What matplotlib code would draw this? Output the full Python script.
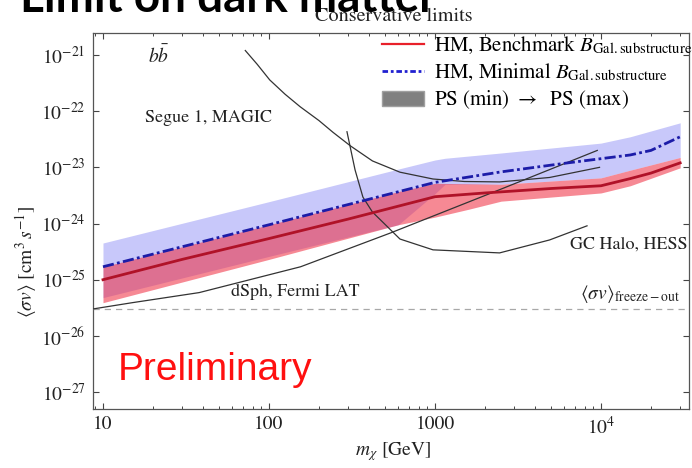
import matplotlib
matplotlib.use('Agg')
import matplotlib.pyplot as plt
import numpy as np
from matplotlib.lines import Line2D
from matplotlib.patches import Patch
from matplotlib.ticker import FixedLocator, FixedFormatter, LogLocator, NullLocator

plt.rcParams['font.family'] = ['STIXGeneral', 'DejaVu Serif']
plt.rcParams['mathtext.fontset'] = 'stix'

# --- data (m in GeV, <sigma v> in cm^3/s) ---
m_bench = [10, 30, 100, 300, 1000, 2000, 5000, 10000, 15000, 20000, 30000]
sv_bench = [1.0e-25, 2.3e-25, 5.4e-25, 1.2e-24, 3.0e-24, 3.5e-24, 4.2e-24,
            4.7e-24, 6.3e-24, 7.9e-24, 1.2e-23]

m_min = [10, 100, 1000, 2500, 6300, 15000, 20000, 30000]
sv_min = [1.7e-25, 9.5e-25, 5.4e-24, 8.3e-24, 1.2e-23, 1.66e-23, 2.0e-23, 3.5e-23]

m_blue_band = [10, 100, 600, 1000, 1150, 2500, 10000, 15000, 30000]
blue_hi = [4.5e-25, 2.45e-24, 9.3e-24, 1.35e-23, 1.45e-23, 1.8e-23, 2.7e-23, 3.5e-23, 6.2e-23]
blue_lo = [4.8e-26, 2.6e-25, 9.5e-25, 3.4e-24, 5.0e-24, 5.0e-24, 6.5e-24, 8.9e-24, 1.5e-23]

m_red_band = [10, 100, 600, 1000, 1600, 2500, 10000, 15000, 30000]
red_hi = [1.7e-25, 9.5e-25, 3.7e-24, 5.2e-24, 5.1e-24, 5.0e-24, 6.5e-24, 8.9e-24, 1.5e-23]
red_lo = [3.9e-26, 2.3e-25, 9.5e-25, 1.3e-24, 1.8e-24, 2.5e-24, 3.5e-24, 4.7e-24, 9.8e-24]

m_dsph = [8.6, 15, 38, 155, 540, 2450, 9500]
sv_dsph = [3.0e-26, 3.9e-26, 5.9e-26, 1.7e-25, 6.8e-25, 4.0e-24, 2.0e-23]

m_segue = [72, 85, 101, 125, 154, 200, 243, 310, 420, 615, 973, 1500, 2450, 4900, 9800]
sv_segue = [1.2e-21, 6.8e-22, 3.6e-22, 2.0e-22, 1.2e-22, 6.8e-23, 4.2e-23, 2.4e-23,
            1.3e-23, 8.2e-24, 6.2e-24, 5.6e-24, 5.5e-24, 6.6e-24, 1.0e-23]

m_gc = [295, 330, 368, 420, 486, 615, 973, 2450, 4900, 8240]
sv_gc = [4.3e-23, 9.0e-24, 2.95e-24, 1.6e-24, 1.05e-24, 5.3e-25, 3.4e-25, 3.0e-25,
         5.1e-25, 9.1e-25]

sv_freeze = 3.0e-26

x_ticks = [10, 100, 1000, 10000]
x_ticklabels = ['10', '100', '1000', r'$10^4$']
y_ticks = [1e-27, 1e-26, 1e-25, 1e-24, 1e-23, 1e-22, 1e-21]
y_ticklabels = [r'$10^{-27}$', r'$10^{-26}$', r'$10^{-25}$', r'$10^{-24}$',
                r'$10^{-23}$', r'$10^{-22}$', r'$10^{-21}$']

# --- figure ---
fig = plt.figure(figsize=(6.92, 4.68), dpi=100)
ax = fig.add_axes([92.7 / 692, 59 / 468, 596.3 / 692, 376 / 468])
ax.set_xscale('log')
ax.set_yscale('log')

ax.fill_between(m_blue_band, blue_lo, blue_hi, color='#c8c8fa', lw=0, zorder=1)
ax.fill_between(m_red_band, red_lo, red_hi, color='#f0283c', alpha=0.55, lw=0, zorder=2)

ax.axhline(sv_freeze, color='#a8a8a8', lw=0.9, ls=(0, (5, 4)), zorder=3)
for mm, ss in [(m_dsph, sv_dsph), (m_segue, sv_segue), (m_gc, sv_gc)]:
    ax.plot(mm, ss, color='#333333', lw=0.9, zorder=4)

ax.plot(m_bench, sv_bench, color='#b01228', lw=2.0, zorder=5)
ax.plot(m_min, sv_min, color='#1c1ca8', lw=2.0, ls=(0, (4, 1.2, 1, 1.2)), zorder=6)

ax.set_xlim(8.67, 3.39e4)
ax.set_ylim(5.0e-28, 2.46e-21)

ax.xaxis.set_major_locator(FixedLocator(x_ticks))
ax.xaxis.set_major_formatter(FixedFormatter(x_ticklabels))
ax.xaxis.set_minor_locator(LogLocator(base=10, subs=np.arange(2, 10), numticks=20))
ax.yaxis.set_major_locator(FixedLocator(y_ticks))
ax.yaxis.set_major_formatter(FixedFormatter(y_ticklabels))
ax.yaxis.set_minor_locator(NullLocator())
ax.tick_params(which='both', direction='in', top=True, right=True, color='#444444',
               labelsize=14, labelcolor='#222222')
ax.tick_params(which='major', length=4.5, width=0.8, pad=5)
ax.tick_params(which='minor', length=2.2, width=0.7)
for sp in ax.spines.values():
    sp.set_color('#555555')
    sp.set_linewidth(0.9)

# labels
fig.text(393 / 692, 1 - 452 / 468, r'$m_\chi$ [GeV]', ha='center', va='center',
         fontsize=14, color='#222222')
fig.text(26 / 692, 1 - 262 / 468, r'$\langle\sigma v\rangle\ [\mathrm{cm}^3\,s^{-1}]$',
         rotation=90, ha='center', va='center', fontsize=14, color='#222222')
fig.text(394 / 692, 1 - 16 / 468, 'Conservative limits', ha='center', va='center',
         fontsize=14.5, color='#222222')
fig.text(20 / 692, 1 - 12 / 468, 'Limit on dark matter', ha='left', va='baseline',
         fontsize=33, fontweight='bold', family='Lato', color='black')

ax.text(21.7, 9.6e-22, r'$b\bar{b}$', ha='center', va='center', fontsize=14, color='#222222')
ax.text(43.5, 7.6e-23, 'Segue 1, MAGIC', ha='center', va='center', fontsize=13, color='#222222')
ax.text(143.5, 6.0e-26, 'dSph, Fermi LAT', ha='center', va='center', fontsize=13, color='#222222')
ax.text(3.34e4, 4.2e-25, 'GC Halo, HESS', ha='right', va='center', fontsize=13, color='#222222')
ax.text(1.5e4, 5.6e-26, r'$\langle\sigma v\rangle_{\rm freeze-out}$', ha='center', va='center',
        fontsize=14, color='#222222')
ax.text(12.3, 1.66e-27, 'Preliminary', ha='left', va='baseline', fontsize=28,
        family='Liberation Sans', color='#ff1010')

handles = [Line2D([], [], color='#e8202a', lw=1.6),
           Line2D([], [], color='#2020d0', lw=2.0, ls=(0, (2, 1, 1, 1))),
           Patch(facecolor='#808080', edgecolor='#a0a0a0')]
labels = [r'HM, Benchmark $B_{\rm Gal.substructure}$',
          r'HM, Minimal $B_{\rm Gal.substructure}$',
          r'PS (min) $\rightarrow$  PS (max)']
ax.legend(handles, labels, loc='upper left', bbox_to_anchor=(382 / 692, 1 - 35 / 468),
          bbox_transform=fig.transFigure, frameon=False, fontsize=15, handlelength=2.0,
          handletextpad=0.5, labelspacing=0.28, borderpad=0, borderaxespad=0)

plt.savefig('out.png', dpi=100)
